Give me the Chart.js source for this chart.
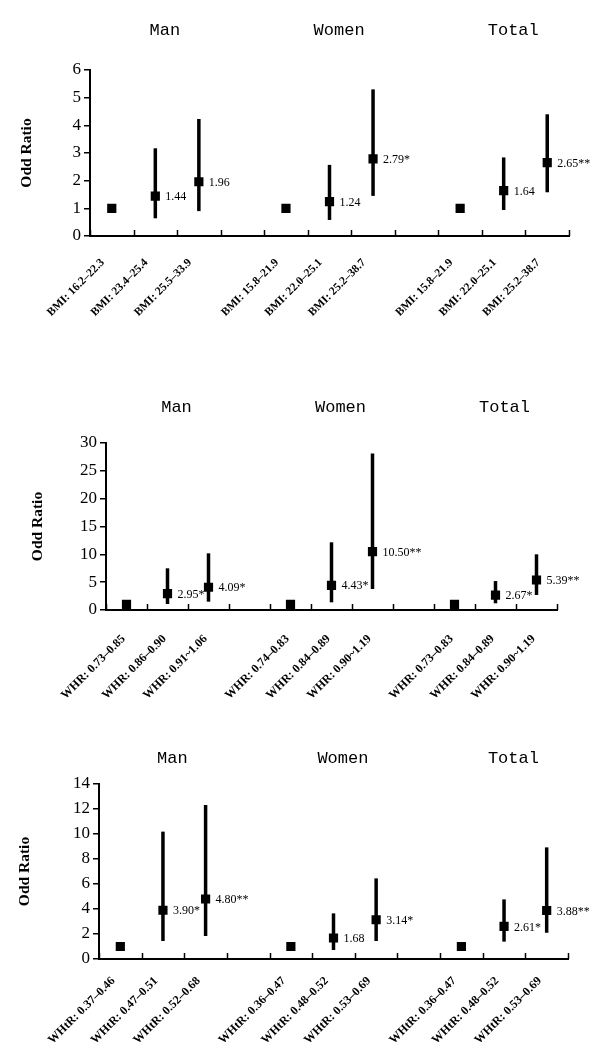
<!DOCTYPE html>
<html>
<head>
<meta charset="utf-8">
<script src="https://cdn.jsdelivr.net/npm/chart.js@4"></script>
<style>
  html, body { margin: 0; padding: 0; background: #fff; }
  body { width: 600px; height: 1053px; position: relative; overflow: hidden; }
  .panel { position: absolute; left: 0; width: 600px; }
</style>
</head>
<body>
<div class="panel" id="w1" style="top:0;height:330px"><canvas id="c1"></canvas></div>
<div class="panel" id="w2" style="top:330px;height:380px"><canvas id="c2"></canvas></div>
<div class="panel" id="w3" style="top:710px;height:343px"><canvas id="c3"></canvas></div>
<script>
// ---------- DATA ----------
const groupNames = ['Man', 'Women', 'Total'];
const yTitle = 'Odd Ratio';

// Panel 1: BMI
const bmiLabels = ['BMI: 16.2–22.3', 'BMI: 23.4–25.4', 'BMI: 25.5–33.9', '',
                   'BMI: 15.8–21.9', 'BMI: 22.0–25.1', 'BMI: 25.2–38.7', '',
                   'BMI: 15.8–21.9', 'BMI: 22.0–25.1', 'BMI: 25.2–38.7'];
const bmiOR   = [1, 1.44, 1.96, null, 1, 1.24, 2.79, null, 1, 1.64, 2.65];
const bmiLow  = [null, 0.64, 0.90, null, null, 0.58, 1.45, null, null, 0.94, 1.58];
const bmiHigh = [null, 3.17, 4.23, null, null, 2.57, 5.30, null, null, 2.84, 4.40];
const bmiText = ['', '1.44', '1.96', '', '', '1.24', '2.79*', '', '', '1.64', '2.65**'];
const bmiTicks = { max: 6, step: 1 };

// Panel 2: WHR
const whrLabels = ['WHR: 0.73–0.85', 'WHR: 0.86–0.90', 'WHR: 0.91~1.06', '',
                   'WHR: 0.74–0.83', 'WHR: 0.84–0.89', 'WHR: 0.90~1.19', '',
                   'WHR: 0.73–0.83', 'WHR: 0.84–0.89', 'WHR: 0.90~1.19'];
const whrOR   = [1, 2.95, 4.09, null, 1, 4.43, 10.50, null, 1, 2.67, 5.39];
const whrLow  = [null, 1.08, 1.50, null, null, 1.38, 3.77, null, null, 1.20, 2.70];
const whrHigh = [null, 7.49, 10.18, null, null, 12.16, 28.10, null, null, 5.20, 10.00];
const whrText = ['', '2.95*', '4.09*', '', '', '4.43*', '10.50**', '', '', '2.67*', '5.39**'];
const whrTicks = { max: 30, step: 5 };

// Panel 3: WHtR
const whtrLabels = ['WHtR: 0.37–0.46', 'WHtR: 0.47–0.51', 'WHtR: 0.52–0.68', '',
                    'WHtR: 0.36–0.47', 'WHtR: 0.48–0.52', 'WHtR: 0.53–0.69', '',
                    'WHtR: 0.36–0.47', 'WHtR: 0.48–0.52', 'WHtR: 0.53–0.69'];
const whtrOR   = [1, 3.90, 4.80, null, 1, 1.68, 3.14, null, 1, 2.61, 3.88];
const whtrLow  = [null, 1.44, 1.84, null, null, 0.72, 1.44, null, null, 1.39, 2.10];
const whtrHigh = [null, 10.19, 12.32, null, null, 3.65, 6.45, null, null, 4.77, 8.93];
const whtrText = ['', '3.90*', '4.80**', '', '', '1.68', '3.14*', '', '', '2.61*', '3.88**'];
const whtrTicks = { max: 14, step: 2 };

// ---------- DRAWING ----------
const SERIF = "'Liberation Serif', 'Times New Roman', serif";
const MONO = "'Liberation Mono', 'Courier New', monospace";

function makeChart(canvasId, labels, or, lo, hi, txt, ticks, layout) {
  const ciPlugin = {
    id: 'ci_' + canvasId,
    beforeDatasetsDraw(chart) {
      const ctx = chart.ctx, x = chart.scales.x, y = chart.scales.y;
      ctx.save();
      ctx.strokeStyle = '#000';
      ctx.lineWidth = 3.5;
      ctx.lineCap = 'butt';
      for (let i = 0; i < labels.length; i++) {
        if (lo[i] == null || hi[i] == null) continue;
        const px = x.getPixelForValue(i);
        ctx.beginPath();
        ctx.moveTo(px, y.getPixelForValue(lo[i]));
        ctx.lineTo(px, y.getPixelForValue(hi[i]));
        ctx.stroke();
      }
      ctx.restore();
    },
    afterDraw(chart) {
      const ctx = chart.ctx, x = chart.scales.x, y = chart.scales.y;
      const area = chart.chartArea;
      ctx.save();
      // value labels
      ctx.fillStyle = '#000';
      ctx.font = '12px ' + SERIF;
      ctx.textAlign = 'left';
      ctx.textBaseline = 'middle';
      for (let i = 0; i < labels.length; i++) {
        if (!txt[i] || or[i] == null) continue;
        ctx.fillText(txt[i], x.getPixelForValue(i) + 10, y.getPixelForValue(or[i]) + 1);
      }
      // inward tick marks on the category axis (at category boundaries)
      const n = labels.length;
      const w = (area.right - area.left) / n;
      ctx.strokeStyle = '#000';
      ctx.lineWidth = 1.5;
      for (let i = 0; i <= n; i++) {
        const px = Math.round(area.left + i * w) + 0.5;
        ctx.beginPath();
        ctx.moveTo(px, area.bottom);
        ctx.lineTo(px, area.bottom - 6);
        ctx.stroke();
      }
      // group titles
      ctx.font = '17px ' + MONO;
      ctx.textAlign = 'center';
      ctx.textBaseline = 'middle';
      for (let g = 0; g < groupNames.length; g++) {
        const mid = x.getPixelForValue(g * 4 + 1) + w * 0.22;
        ctx.fillText(groupNames[g], mid, layout.titleY);
      }
      ctx.restore();
    }
  };

  return new Chart(document.getElementById(canvasId), {
    type: 'line',
    data: {
      labels: labels,
      datasets: [{
        data: or,
        showLine: false,
        pointStyle: 'rect',
        pointRadius: 6.5,
        pointHoverRadius: 6.5,
        pointBackgroundColor: '#000',
        pointBorderColor: '#000',
        pointBorderWidth: 0
      }]
    },
    options: {
      responsive: true,
      maintainAspectRatio: false,
      animation: false,
      events: [],
      layout: { padding: { top: layout.top, right: layout.right, left: 0, bottom: 0 } },
      plugins: { legend: { display: false }, tooltip: { enabled: false }, title: { display: false } },
      scales: {
        x: {
          type: 'category',
          offset: true,
          grid: { display: false, drawTicks: false },
          border: { display: true, color: '#000', width: 2 },
          ticks: {
            autoSkip: false,
            minRotation: 45,
            maxRotation: 45,
            padding: layout.xPad,
            labelOffset: layout.xShift,
            color: '#000',
            font: { family: SERIF, size: layout.xFont, weight: 'bold' }
          },
          afterFit(s) { s.height = layout.xHeight; }
        },
        y: {
          min: 0,
          max: ticks.max,
          ticks: {
            stepSize: ticks.step,
            color: '#000',
            padding: 3,
            font: { family: SERIF, size: 17 }
          },
          grid: { display: true, drawOnChartArea: false, drawTicks: true, tickLength: 6, color: '#000', lineWidth: 1.5 },
          border: { display: true, color: '#000', width: 2 },
          title: {
            display: true,
            text: yTitle,
            color: '#000',
            font: { family: SERIF, size: 15.5, weight: 'bold' },
            padding: { top: layout.titlePad, bottom: 0 }
          },
          afterFit(s) { s.width = layout.left; }
        }
      }
    },
    plugins: [ciPlugin]
  });
}

makeChart('c1', bmiLabels, bmiOR, bmiLow, bmiHigh, bmiText, bmiTicks,
  { top: 70, right: 31, left: 90, xHeight: 94, xPad: 20, xShift: -9, xFont: 11.5, titleY: 30, titlePad: 18 });
makeChart('c2', whrLabels, whrOR, whrLow, whrHigh, whrText, whrTicks,
  { top: 113, right: 43, left: 106, xHeight: 100, xPad: 22, xShift: -3, xFont: 12, titleY: 77, titlePad: 29 });
makeChart('c3', whtrLabels, whtrOR, whtrLow, whtrHigh, whtrText, whtrTicks,
  { top: 74, right: 32, left: 99, xHeight: 94, xPad: 15, xShift: -7, xFont: 12, titleY: 48, titlePad: 16 });
</script>
</body>
</html>
